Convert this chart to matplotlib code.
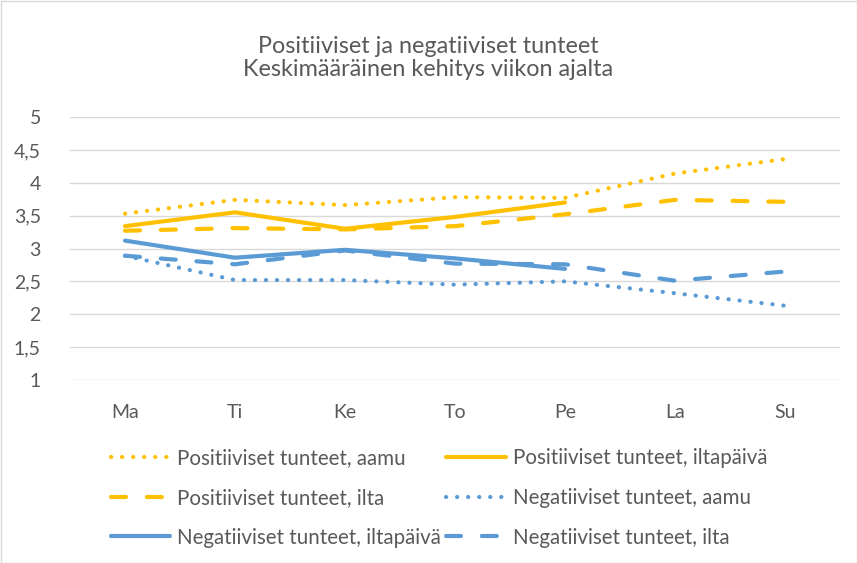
import matplotlib
matplotlib.use("Agg")
import matplotlib.pyplot as plt
from matplotlib.patches import Rectangle

days = ["Ma", "Ti", "Ke", "To", "Pe", "La", "Su"]
pos_aamu = [3.53, 3.74, 3.66, 3.78, 3.77, 4.14, 4.36]
pos_iltapaiva = [3.34, 3.55, 3.30, 3.48, 3.70]
pos_ilta = [3.27, 3.31, 3.29, 3.34, 3.52, 3.74, 3.71]
neg_aamu = [2.89, 2.52, 2.52, 2.45, 2.50, 2.32, 2.13]
neg_iltapaiva = [3.12, 2.86, 2.98, 2.85, 2.69]
neg_ilta = [2.89, 2.76, 2.97, 2.77, 2.76, 2.51, 2.65]
y_ticks = [1, 1.5, 2, 2.5, 3, 3.5, 4, 4.5, 5]

YELLOW = "#FFC000"
BLUE = "#5B9BD5"
TEXT = "#595959"
GRID = "#D9D9D9"

plt.rcParams["font.family"] = ["Lato", "DejaVu Sans"]

fig = plt.figure(figsize=(8.57, 5.63), dpi=100)
ax = fig.add_axes([70 / 857, 1 - 380 / 563, 770 / 857, 263 / 563])

dot = (0, (0.05, 2.6))
dash = (0, (3.6, 5.0))
lw = 3.0
x = list(range(len(days)))

series = [
    ("Positiiviset tunteet, aamu", pos_aamu, YELLOW, dot),
    ("Positiiviset tunteet, iltapäivä", pos_iltapaiva, YELLOW, "-"),
    ("Positiiviset tunteet, ilta", pos_ilta, YELLOW, dash),
    ("Negatiiviset tunteet, aamu", neg_aamu, BLUE, dot),
    ("Negatiiviset tunteet, iltapäivä", neg_iltapaiva, BLUE, "-"),
    ("Negatiiviset tunteet, ilta", neg_ilta, BLUE, dash),
]
handles = {}
for label, vals, color, ls in series:
    (h,) = ax.plot(x[: len(vals)], vals, color=color, linestyle=ls, lw=lw,
                   dash_capstyle="round", solid_capstyle="round",
                   solid_joinstyle="round", label=label)
    handles[label] = h

ax.set_xlim(-0.5, 6.5)
ax.set_ylim(1, 5)
ax.set_yticks(y_ticks)
ax.set_yticklabels([f"{v:g}".replace(".", ",") for v in y_ticks])
ax.set_xticks(x)
ax.set_xticklabels(days)
ax.tick_params(length=0, labelsize=14, colors=TEXT)
ax.tick_params(axis="x", pad=17)
ax.tick_params(axis="y", pad=21)
ax.grid(axis="y", color=GRID, lw=1)
ax.set_axisbelow(True)
for s in ax.spines.values():
    s.set_visible(False)

fig.text(0.5, 1 - 58 / 563, "Positiiviset ja negatiiviset tunteet\nKeskimääräinen kehitys viikon ajalta",
         ha="center", va="center", fontsize=16.8, color=TEXT, linespacing=1.15)

order = [
    "Positiiviset tunteet, aamu",
    "Positiiviset tunteet, ilta",
    "Negatiiviset tunteet, iltapäivä",
    "Positiiviset tunteet, iltapäivä",
    "Negatiiviset tunteet, aamu",
    "Negatiiviset tunteet, ilta",
]
fig.legend([handles[k] for k in order], order, ncol=2, frameon=False,
           loc="upper left", bbox_to_anchor=(92 / 857, 1 - 430 / 563),
           fontsize=14.8, labelcolor=TEXT, handlelength=2.9, handletextpad=0.35,
           columnspacing=0.25, labelspacing=0.95)

fig.add_artist(Rectangle((0.5 / 857, 0.5 / 563), 1 - 1 / 857, 1 - 1 / 563,
                         transform=fig.transFigure, fill=False, ec=GRID, lw=1))

fig.savefig("out.png", dpi=100)
